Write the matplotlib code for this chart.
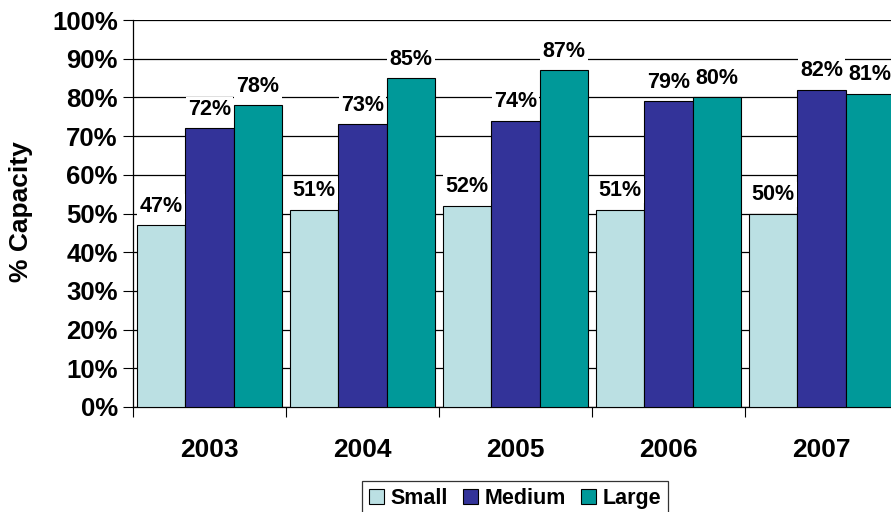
import matplotlib
matplotlib.use("Agg")
import matplotlib.pyplot as plt
import numpy as np

years = ["2003", "2004", "2005", "2006", "2007"]
small = [47, 51, 52, 51, 50]
medium = [72, 73, 74, 79, 82]
large = [78, 85, 87, 80, 81]
series_names = ["Small", "Medium", "Large"]
colors = ["#BBE0E3", "#333399", "#009999"]

plt.rcParams['font.family'] = ['Liberation Sans', 'DejaVu Sans']
plt.rcParams['font.weight'] = 'bold'

fig = plt.figure(figsize=(8.91, 5.12), dpi=100)
W, H = 891, 512
ax = fig.add_axes([133 / W, 1 - 407 / H, (898 - 133) / W, (407 - 20) / H])

x = np.arange(len(years))
bw = 0.316
for i, (vals, name, c) in enumerate(zip([small, medium, large], series_names, colors)):
    pos = x + (i - 1) * bw
    ax.bar(pos, vals, width=bw, color=c, edgecolor='black', linewidth=0.8, label=name, zorder=3)
    for p, v in zip(pos, vals):
        ax.annotate(f"{v}%", (p, v), xytext=(0, 6), textcoords='offset points',
                    ha='center', va='bottom', fontsize=15.5, fontweight='bold', zorder=5,
                    bbox=dict(boxstyle='square,pad=0.1', fc='white', ec='none'))

ax.set_xlim(-0.5, len(years) - 0.5)
ax.set_ylim(0, 100)
ax.set_yticks(np.arange(0, 101, 10))
ax.set_yticklabels([f"{v}%" for v in range(0, 101, 10)], fontsize=18.5, fontweight='bold')
ax.yaxis.grid(True, color='black', linewidth=0.9, zorder=0)
ax.set_axisbelow(True)

ax.set_xticks(x)
ax.set_xticklabels(years, fontsize=19, fontweight='bold')
ax.tick_params(axis='x', length=0, pad=22)
ax.set_xticks(np.arange(-0.5, len(years), 1), minor=True)
ax.tick_params(axis='x', which='minor', length=7, width=0.8, direction='out')
ax.tick_params(axis='y', length=7, width=0.8, direction='out', pad=4)

for s in ['top', 'right']:
    ax.spines[s].set_visible(False)
ax.spines['left'].set_linewidth(0.9)
ax.spines['bottom'].set_linewidth(0.9)

fig.text(21 / W, 1 - 212 / H, "% Capacity", rotation=90, ha='center', va='center',
         fontsize=19, fontweight='bold')

leg = fig.legend(loc='upper center', bbox_to_anchor=(515 / W, 1 - 481 / H), ncol=3,
                 frameon=True, fancybox=False, edgecolor='black', borderaxespad=0,
                 handlelength=0.7, handleheight=0.7, handletextpad=0.3, columnspacing=0.7,
                 borderpad=0.32, prop={'weight': 'bold', 'size': 15.5})
leg.get_frame().set_linewidth(0.9)

fig.savefig("out.png", dpi=100)
